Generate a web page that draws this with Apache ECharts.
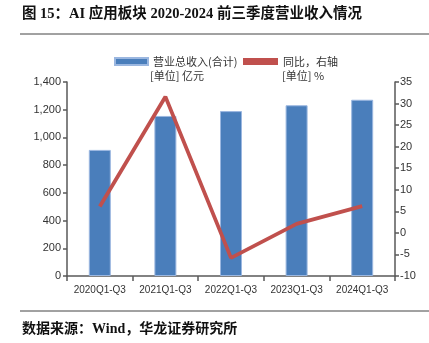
<!DOCTYPE html>
<html><head><meta charset="utf-8">
<script src="https://cdn.jsdelivr.net/npm/echarts@6/dist/echarts.min.js"></script>
<style>html,body{margin:0;padding:0;background:#fff}#c{width:429px;height:343px}</style>
</head><body><div id="c"></div>
<script>
const categories = ['2020Q1-Q3','2021Q1-Q3','2022Q1-Q3','2023Q1-Q3','2024Q1-Q3'];
const revenue = [910, 1155, 1190, 1232, 1272];
const yoy = [6.1, 31.6, -5.8, 2.1, 6.2];
const leftTicks = {min:0, max:1400, interval:200};
const rightTicks = {min:-10, max:35, interval:5};
const titleText = '图 15：AI 应用板块 2020-2024 前三季度营业收入情况';
const sourceText = '数据来源：Wind，华龙证券研究所';

const chart = echarts.init(document.getElementById('c'), null, {renderer:'canvas'});
const axisCol = '#595959';
const lblFont = {color:'#333', fontSize:11, fontFamily:'Liberation Sans, Arial, sans-serif'};
chart.setOption({
  animation:false,
  backgroundColor:'#fff',
  grid:{left:67, right:34, top:82, bottom:67},
  legend:[
    {left:114, top:56, padding:0, itemWidth:33, itemHeight:7, itemGap:4, data:[{name:'营业总收入(合计)', icon:'rect'}],
     textStyle:{color:'#333', fontSize:11, fontFamily:'Noto Sans CJK SC'}},
    {left:243, top:56, padding:0, itemWidth:35, itemHeight:7, data:[{name:'同比，右轴', icon:'rect'}],
     textStyle:{color:'#333', fontSize:11, fontFamily:'Noto Sans CJK SC'}}
  ],
  xAxis:{type:'category', data:categories,
    axisLine:{lineStyle:{color:axisCol, width:1.5}},
    axisTick:{show:true, length:5, lineStyle:{color:axisCol, width:1.5}},
    axisLabel:Object.assign({}, lblFont, {margin:9, fontSize:10, interval:0})},
  yAxis:[
    {type:'value', min:leftTicks.min, max:leftTicks.max, interval:leftTicks.interval,
     axisLine:{show:true, lineStyle:{color:axisCol, width:1.5}},
     axisTick:{show:true, length:4, lineStyle:{color:axisCol, width:1.5}},
     splitLine:{show:false},
     axisLabel:Object.assign({margin:6, formatter:v=>v.toLocaleString('en-US')}, lblFont)},
    {type:'value', min:rightTicks.min, max:rightTicks.max, interval:rightTicks.interval,
     axisLine:{show:true, lineStyle:{color:axisCol, width:1.5}},
     axisTick:{show:true, length:4, lineStyle:{color:axisCol, width:1.5}},
     splitLine:{show:false},
     axisLabel:Object.assign({margin:5}, lblFont)}
  ],
  series:[
    {name:'营业总收入(合计)', type:'bar', data:revenue, barWidth:22, yAxisIndex:0,
     itemStyle:{color:'#4a7ebb', borderColor:'#9bb7e0', borderWidth:1}},
    {name:'同比，右轴', type:'line', data:yoy, yAxisIndex:1, symbol:'none',
     lineStyle:{color:'#c0504d', width:3.8}, itemStyle:{color:'#c0504d'}}
  ],
  graphic:[
    {type:'text', left:22, top:7, style:{text:titleText, fill:'#111', font:'bold 14.5px "Liberation Serif", "Noto Sans CJK SC", serif'}},
    {type:'line', shape:{x1:20, y1:34, x2:429, y2:34}, style:{stroke:'#444', lineWidth:1}},
    {type:'text', left:150, top:70, style:{text:'[单位] 亿元', fill:'#333', font:'11px "Noto Sans CJK SC"'}},
    {type:'text', left:282, top:70, style:{text:'[单位] %', fill:'#333', font:'11px "Noto Sans CJK SC"'}},
    {type:'line', shape:{x1:20, y1:311, x2:429, y2:311}, style:{stroke:'#444', lineWidth:1}},
    {type:'text', left:22, top:322, style:{text:sourceText, fill:'#111', font:'bold 14px "Liberation Serif", "Noto Sans CJK SC", serif'}}
  ]
});
</script></body></html>
